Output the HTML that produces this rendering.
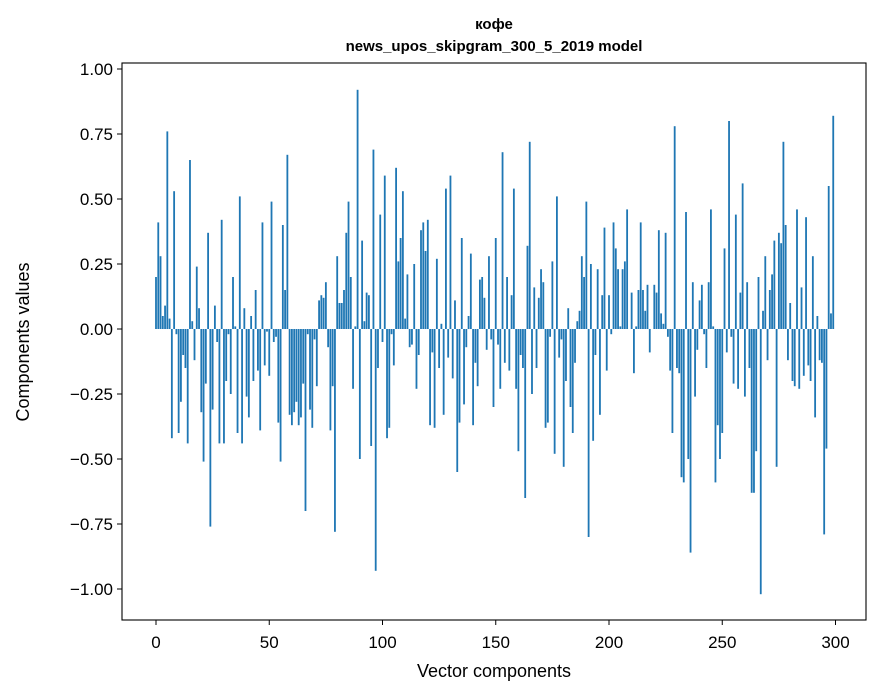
<!DOCTYPE html>
<html><head><meta charset="utf-8"><style>
body{margin:0;background:#fff;}
svg{display:block;font-family:"Liberation Sans","DejaVu Sans",sans-serif;}
</style></head><body>
<svg id="chart" width="880" height="696" viewBox="0 0 880 696">
<text x="494" y="29" text-anchor="middle" font-size="15" font-weight="bold">кофе</text>
<text x="494" y="51" text-anchor="middle" font-size="15" font-weight="bold">news_upos_skipgram_300_5_2019 model</text>
<g id="bars"></g>
<g id="axes"></g>
<rect x="122" y="63" width="744" height="557" fill="none" stroke="#000" stroke-width="1.1"/>
<text x="494" y="677" text-anchor="middle" font-size="18">Vector components</text>
<text transform="translate(29,342) rotate(-90)" text-anchor="middle" font-size="18">Components values</text>
</svg>
<script>
const values = [0.20,0.41,0.28,0.05,0.09,0.76,0.04,-0.42,0.53,-0.02,-0.40,-0.28,-0.10,-0.15,-0.44,0.65,0.03,-0.12,0.24,0.08,-0.32,-0.51,-0.21,0.37,-0.76,-0.31,0.09,-0.05,-0.44,0.42,-0.44,-0.20,-0.02,-0.25,0.20,0.01,-0.40,0.51,-0.44,0.08,-0.26,-0.34,0.05,-0.20,0.15,-0.16,-0.39,0.41,-0.14,-0.01,-0.18,
0.49,-0.05,-0.03,-0.36,-0.51,0.40,0.15,0.67,-0.33,-0.37,-0.32,-0.28,-0.37,-0.34,-0.21,-0.70,-0.02,-0.31,-0.38,-0.04,-0.22,0.11,0.13,0.12,0.18,-0.07,-0.39,-0.22,-0.78,0.28,0.10,0.10,0.15,0.37,0.49,0.20,-0.23,0.01,0.92,-0.50,0.34,0.03,0.14,0.13,-0.45,0.69,-0.93,-0.15,0.44,-0.05,0.59,
-0.42,-0.38,-0.02,-0.14,0.62,0.26,0.35,0.53,0.04,0.21,-0.07,-0.06,0.25,-0.23,-0.10,0.38,0.41,0.30,0.42,-0.37,-0.09,-0.38,0.27,-0.15,0.02,-0.33,0.54,-0.11,0.59,-0.19,0.11,-0.55,-0.36,0.35,-0.29,-0.07,0.05,0.29,-0.37,-0.13,-0.22,0.19,0.20,0.12,-0.08,0.28,-0.04,-0.30,0.35,-0.06,-0.23,
0.68,-0.13,0.20,-0.16,0.13,0.54,-0.23,-0.47,-0.10,-0.15,-0.65,0.32,0.72,-0.25,0.16,-0.15,0.12,0.23,0.18,-0.38,-0.36,-0.03,0.26,-0.48,0.51,-0.11,-0.04,-0.53,-0.20,0.08,-0.30,-0.40,-0.13,0.03,0.07,0.28,0.20,0.49,-0.80,0.25,-0.43,-0.10,0.23,-0.33,0.13,0.39,-0.16,0.13,-0.02,0.41,0.31,
0.23,0.01,0.23,0.26,0.46,0.00,0.14,-0.17,0.01,0.15,0.41,0.15,0.07,0.17,-0.09,0.00,0.17,0.14,0.38,0.06,0.02,0.37,-0.03,-0.16,-0.40,0.78,-0.15,-0.17,-0.57,-0.59,0.45,-0.50,-0.86,0.18,-0.26,-0.08,0.11,0.17,-0.02,-0.15,0.18,0.46,0.01,-0.59,-0.37,-0.50,-0.40,0.31,-0.09,0.80,-0.03,
-0.21,0.44,-0.23,0.14,0.56,-0.26,0.18,-0.15,-0.63,-0.63,-0.47,0.20,-1.02,0.07,0.28,-0.12,0.15,0.21,0.34,-0.53,0.37,0.33,0.72,0.40,-0.12,0.10,-0.20,-0.22,0.46,-0.23,0.16,-0.18,0.43,-0.14,-0.20,0.28,-0.34,0.05,-0.12,-0.13,-0.79,-0.46,0.55,0.06,0.82];
const xTicks = [0,50,100,150,200,250,300];
const yTicks = [-1.00,-0.75,-0.50,-0.25,0.00,0.25,0.50,0.75,1.00];

const NS='http://www.w3.org/2000/svg';
function xs(i){return 156 + i*2.265;}
function ys(v){return 329 - v*260;}
const barsG=document.getElementById('bars');
values.forEach((v,i)=>{
  const r=document.createElementNS(NS,'rect');
  const w=0.8*2.265;
  r.setAttribute('x',xs(i)-w/2);
  r.setAttribute('y',Math.min(ys(v),ys(0)));
  r.setAttribute('width',w);
  r.setAttribute('height',Math.abs(ys(v)-ys(0)));
  r.setAttribute('fill','#1f77b4');
  
  
  barsG.appendChild(r);
});
const ax=document.getElementById('axes');
xTicks.forEach(t=>{
  const l=document.createElementNS(NS,'line');
  l.setAttribute('x1',xs(t));l.setAttribute('x2',xs(t));
  l.setAttribute('y1',620);l.setAttribute('y2',625);
  l.setAttribute('stroke','#000');
  
  
  ax.appendChild(l);
  const tx=document.createElementNS(NS,'text');
  tx.setAttribute('x',xs(t));tx.setAttribute('y',648);
  tx.setAttribute('text-anchor','middle');tx.setAttribute('font-size','17');
  tx.textContent=t;
  
  
  ax.appendChild(tx);
});
yTicks.forEach(t=>{
  const l=document.createElementNS(NS,'line');
  l.setAttribute('x1',117);l.setAttribute('x2',122);
  l.setAttribute('y1',ys(t));l.setAttribute('y2',ys(t));
  l.setAttribute('stroke','#000');
  
  
  ax.appendChild(l);
  const tx=document.createElementNS(NS,'text');
  tx.setAttribute('x',113);tx.setAttribute('y',ys(t)+6);
  tx.setAttribute('text-anchor','end');tx.setAttribute('font-size','17');
  tx.textContent=(t<0?'\u2212':'')+Math.abs(t).toFixed(2);
  
  
  ax.appendChild(tx);
});
</script>
</body></html>
